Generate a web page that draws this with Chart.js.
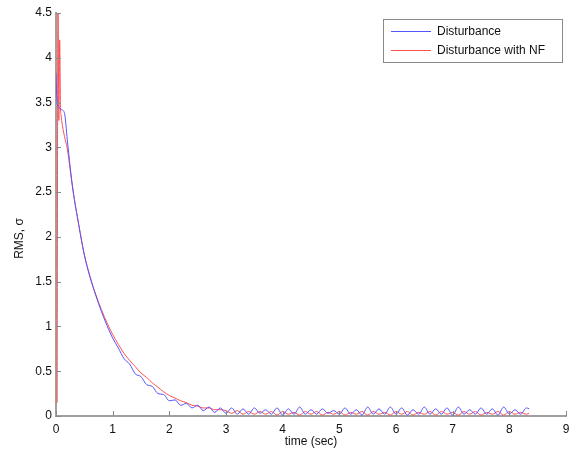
<!DOCTYPE html>
<html><head><meta charset="utf-8">
<script src="https://cdn.jsdelivr.net/npm/chart.js@4/dist/chart.umd.min.js"></script>
<style>html,body{margin:0;padding:0;background:#fff;} #wrap{width:576px;height:453px;position:relative;}</style>
</head><body><div id="wrap"><canvas id="c"></canvas></div>
<script>
// ---- data ----
const seriesNames = ['Disturbance', 'Disturbance with NF'];
const xTicks = [0, 1, 2, 3, 4, 5, 6, 7, 8, 9];
const yTicks = [0, 0.5, 1, 1.5, 2, 2.5, 3, 3.5, 4, 4.5];
const xTitle = 'time (sec)';
const yTitle = 'RMS, σ';

const blueStartT = [0, 0.01, 0.03, 0.06];
const blueStartY = [3.83, 3.62, 3.47, 3.44];
const redStartT = [0.02, 0.035, 0.05, 0.065, 0.08, 0.09];
const redStartY = [0.15, 4.8, 3.3, 4.2, 3.42, 3.36];

const time = [0.1,0.15,0.2,0.25,0.3,0.4,0.5,0.6,0.7,0.8,0.9,1.0,1.1,1.2,1.3,1.4,1.5,1.6,1.7,1.8,1.9,2.0,2.1,2.2,2.3,2.4,2.5,2.6,2.7,2.8,2.9,3.0,3.1,3.2,3.3,3.4,3.5,3.6,3.7,3.8,3.9,4.0,4.1,4.2,4.3,4.4,4.5,4.6,4.7,4.8,4.9,5.0,5.1,5.2,5.3,5.4,5.5,5.6,5.7,5.8,5.9,6.0,6.1,6.2,6.3,6.4,6.5,6.6,6.7,6.8,6.9,7.0,7.1,7.2,7.3,7.4,7.5,7.6,7.7,7.8,7.9,8.0,8.1,8.2,8.3,8.35];

const disturbance = [3.42,3.38,3.08,2.78,2.52,2.14,1.80,1.55,1.35,1.17,1.01,0.87,0.76,0.64,0.58,0.47,0.44,0.35,0.33,0.25,0.24,0.17,0.18,0.12,0.14,0.09,0.12,0.06,0.10,0.04,0.09,
0.03,0.09,0.02,0.08,0.02,0.09,0.03,0.07,0.02,0.09,0.01,0.08,0.02,0.10,0.02,0.07,0.02,0.08,0.03,0.06,0.02,0.09,0.02,0.07,0.01,0.10,0.02,0.08,0.02,0.10,0.02,0.09,0.01,0.07,0.02,0.10,0.02,0.08,0.02,0.09,0.01,0.10,0.02,0.07,0.02,0.09,0.02,0.08,0.01,0.10,0.02,0.07,0.02,0.09,0.08];

const disturbanceNF = [3.30,3.12,2.98,2.75,2.52,2.14,1.80,1.56,1.36,1.19,1.04,0.91,0.80,0.70,0.62,0.55,0.48,0.43,0.37,0.32,0.27,0.23,0.20,0.17,0.15,0.12,0.11,0.09,0.09,0.07,0.07,
0.06,0.03,0.06,0.02,0.05,0.02,0.05,0.02,0.05,0.01,0.05,0.02,0.04,0.01,0.05,0.02,0.05,0.01,0.04,0.02,0.05,0.01,0.04,0.02,0.05,0.01,0.05,0.02,0.04,0.01,0.05,0.02,0.05,0.01,0.04,0.02,0.05,0.01,0.05,0.02,0.04,0.01,0.05,0.02,0.05,0.01,0.04,0.02,0.05,0.01,0.05,0.02,0.04,0.02,0.03];

// ---- build ----
const FONT = "'Liberation Sans', Arial, sans-serif";
const BLUE = '#5555ff';
const RED = '#ff4f4f';
const toPts = (ts, ys) => ts.map((t, i) => ({x: t, y: ys[i]}));
const blueData = toPts(blueStartT, blueStartY).concat(toPts(time, disturbance));
const redData = toPts(redStartT, redStartY).concat(toPts(time, disturbanceNF));

const inwardTicks = {
  id: 'inwardTicks',
  afterDraw(chart) {
    const {ctx, chartArea: a, scales: {x, y}} = chart;
    ctx.save();
    ctx.strokeStyle = '#8a8a8a';
    ctx.lineWidth = 1;
    x.ticks.forEach(t => {
      const p = Math.round(x.getPixelForValue(t.value)) + 0.5;
      ctx.beginPath(); ctx.moveTo(p, a.bottom); ctx.lineTo(p, a.bottom - 5); ctx.stroke();
    });
    y.ticks.forEach(t => {
      const p = Math.round(y.getPixelForValue(t.value)) + 0.5;
      ctx.beginPath(); ctx.moveTo(a.left, p); ctx.lineTo(a.left + 5, p); ctx.stroke();
    });
    // y axis title (sits a little below the axis middle, as in the reference)
    ctx.fillStyle = '#111';
    ctx.font = '12px ' + FONT;
    ctx.textAlign = 'center';
    ctx.textBaseline = 'middle';
    ctx.translate(20, (a.top + a.bottom) / 2 + 24);
    ctx.rotate(-Math.PI / 2);
    ctx.fillText(yTitle, 0, 0);
    ctx.restore();
  }
};

const boxLegend = {
  id: 'boxLegend',
  afterDraw(chart) {
    const {ctx, chartArea: a} = chart;
    const x0 = a.right - 183, y0 = a.top + 6, w = 179, h = 43;
    ctx.save();
    ctx.fillStyle = '#fff';
    ctx.fillRect(x0, y0, w, h);
    ctx.strokeStyle = '#8a8a8a';
    ctx.lineWidth = 1;
    ctx.strokeRect(Math.round(x0) + 0.5, Math.round(y0) + 0.5, w, h);
    ctx.font = '12px ' + FONT;
    ctx.textBaseline = 'middle';
    ctx.fillStyle = '#111';
    chart.data.datasets.forEach((ds, i) => {
      const yy = y0 + 12 + i * 19;
      ctx.strokeStyle = ds.borderColor;
      ctx.beginPath(); ctx.moveTo(x0 + 8, yy + 0.5); ctx.lineTo(x0 + 48, yy + 0.5); ctx.stroke();
      ctx.fillText(ds.label, x0 + 54, yy + 1);
    });
    ctx.restore();
  }
};

new Chart(document.getElementById('c'), {
  type: 'line',
  data: {
    datasets: [
      {label: seriesNames[0], data: blueData, borderColor: BLUE, borderWidth: 1, pointRadius: 0, cubicInterpolationMode: 'monotone', fill: false},
      {label: seriesNames[1], data: redData, borderColor: RED, borderWidth: 1, pointRadius: 0, cubicInterpolationMode: 'monotone', fill: false}
    ]
  },
  options: {
    responsive: true,
    maintainAspectRatio: false,
    animation: false,
    devicePixelRatio: 1,
    layout: {padding: {left: 0, right: 10, top: 13, bottom: 0}},
    plugins: {legend: {display: false}, tooltip: {enabled: false}},
    scales: {
      x: {
        type: 'linear', min: 0, max: 9,
        afterBuildTicks: s => { s.ticks = xTicks.map(v => ({value: v})); },
        afterFit: s => { s.height = 37; },
        grid: {display: true, drawOnChartArea: false, drawTicks: false},
        border: {display: true, color: '#a0a0a0', width: 2},
        ticks: {padding: 6, color: '#111', font: {family: FONT, size: 12}, maxRotation: 0, autoSkip: false, callback: v => String(v)},
        title: {display: true, text: xTitle, color: '#111', font: {family: FONT, size: 12}, padding: {top: 0, bottom: 4}}
      },
      y: {
        type: 'linear', min: 0, max: 4.5,
        afterBuildTicks: s => { s.ticks = yTicks.map(v => ({value: v})); },
        afterFit: s => { s.width = 56; },
        grid: {display: true, drawOnChartArea: false, drawTicks: false},
        border: {display: true, color: '#a0a0a0', width: 2},
        ticks: {padding: 4, color: '#111', font: {family: FONT, size: 12}, autoSkip: false, callback: v => String(v)},
        title: {display: false}
      }
    }
  },
  plugins: [inwardTicks, boxLegend]
});
</script>
</body></html>
